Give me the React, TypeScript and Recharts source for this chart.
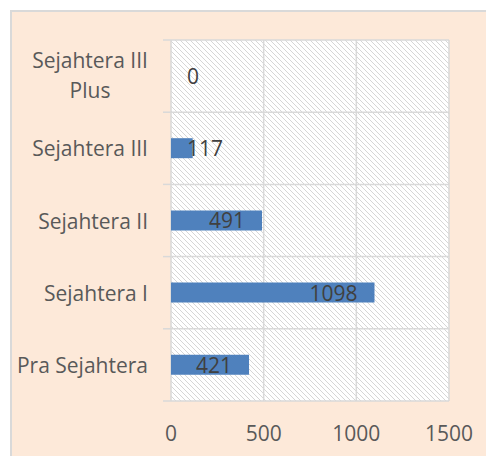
import React from 'react';
import { BarChart, Bar, XAxis, YAxis, CartesianGrid, LabelList } from 'recharts';

const categories = ['Sejahtera III Plus', 'Sejahtera III', 'Sejahtera II', 'Sejahtera I', 'Pra Sejahtera'];
const values = [0, 117, 491, 1098, 421];
const xTicks = [0, 500, 1000, 1500];

const data = categories.map((name, i) => ({ name, value: values[i] }));

const W = 486;
const H = 456;
const M = { top: 40, right: 37, bottom: 25, left: 0 };
const X_AXIS_H = 30;
const Y_AXIS_W = 171;
const PLOT_H = H - M.top - M.bottom - X_AXIS_H;
const BAND = PLOT_H / categories.length;
const FONT = '"Open Sans", sans-serif';
const AXIS_COLOR = '#595959';
const GRID = '#D9D9D9';

const YTick = (props: any) => {
  const { x, y, payload, index } = props;
  const label: string = payload.value;
  const tickTop = y - BAND / 2;
  const tickBottom = y + BAND / 2;
  let textEl;
  if (label.length > 14) {
    const cut = label.lastIndexOf(' ');
    const l1 = label.slice(0, cut);
    const l2 = label.slice(cut + 1);
    textEl = (
      <text x={x - 81} y={y} textAnchor="middle" fill={AXIS_COLOR} fontSize={21} fontFamily={FONT}>
        <tspan x={x - 81} dy={-8}>{l1}</tspan>
        <tspan x={x - 81} dy={30}>{l2}</tspan>
      </text>
    );
  } else {
    textEl = (
      <text x={x - 23} y={y + 8} textAnchor="end" fill={AXIS_COLOR} fontSize={21} fontFamily={FONT}>
        {label}
      </text>
    );
  }
  return (
    <g>
      <line x1={x - 8} x2={x} y1={tickTop} y2={tickTop} stroke={GRID} strokeWidth={1.5} />
      {index === categories.length - 1 && (
        <line x1={x - 8} x2={x} y1={tickBottom} y2={tickBottom} stroke={GRID} strokeWidth={1.5} />
      )}
      {textEl}
    </g>
  );
};

const XTick = (props: any) => {
  const { x, y, payload } = props;
  return (
    <text x={x} y={y + 39.5} textAnchor="middle" fill={AXIS_COLOR} fontSize={21} fontFamily={FONT}>
      {payload.value}
    </text>
  );
};

const BarLabel = (props: any) => {
  const { x, y, width, height, value } = props;
  const inside = width > 70;
  const tx = inside ? x + width - 17 : x + 16;
  return (
    <text
      x={tx}
      y={y + height / 2 + 8}
      textAnchor={inside ? 'end' : 'start'}
      fill="#404040"
      fontSize={21}
      fontFamily={FONT}
    >
      {value}
    </text>
  );
};

export default function App() {
  return (
    <div style={{ position: 'absolute', left: 0, top: 0, width: W, height: H, overflow: 'hidden', background: '#fff' }}>
      <div
        style={{
          position: 'absolute',
          left: 10,
          top: 10,
          width: W,
          height: H,
          background: '#FDE9D9',
          borderLeft: `2px solid ${GRID}`,
          borderTop: `2px solid ${GRID}`,
          boxSizing: 'border-box',
        }}
      />
      <svg width={0} height={0} style={{ position: 'absolute' }}>
        <defs>
          <pattern id="hatch" patternUnits="userSpaceOnUse" width={5} height={5}>
            <rect x={0} y={0} width={5} height={5} fill="#ffffff" />
            <path d="M-1,4 l2,2 M0,0 l5,5 M4,-1 l2,2" stroke="#D6D6D6" strokeWidth={1} />
          </pattern>
        </defs>
      </svg>
      <div style={{ position: 'absolute', left: 0, top: 0 }}>
        <BarChart width={W} height={H} data={data} layout="vertical" margin={M}>
          <CartesianGrid
            fill="url(#hatch)"
            stroke={GRID}
            strokeWidth={1.5}
            horizontalCoordinatesGenerator={({ offset }: any) =>
              categories.map((_, i) => offset.top + (i * offset.height) / categories.length).concat([offset.top + offset.height])
            }
          />
          <XAxis
            type="number"
            domain={[0, 1500]}
            ticks={xTicks}
            axisLine={false}
            tickLine={false}
            tickSize={0}
            tickMargin={0}
            height={X_AXIS_H}
            tick={<XTick />}
            interval={0}
          />
          <YAxis
            type="category"
            dataKey="name"
            width={Y_AXIS_W}
            axisLine={false}
            tickLine={false}
            tickSize={0}
            tickMargin={0}
            tick={<YTick />}
            interval={0}
          />
          <Bar dataKey="value" fill="#4F81BD" barSize={20} minPointSize={0.01} isAnimationActive={false}>
            <LabelList dataKey="value" content={<BarLabel />} />
          </Bar>
        </BarChart>
      </div>
    </div>
  );
}
